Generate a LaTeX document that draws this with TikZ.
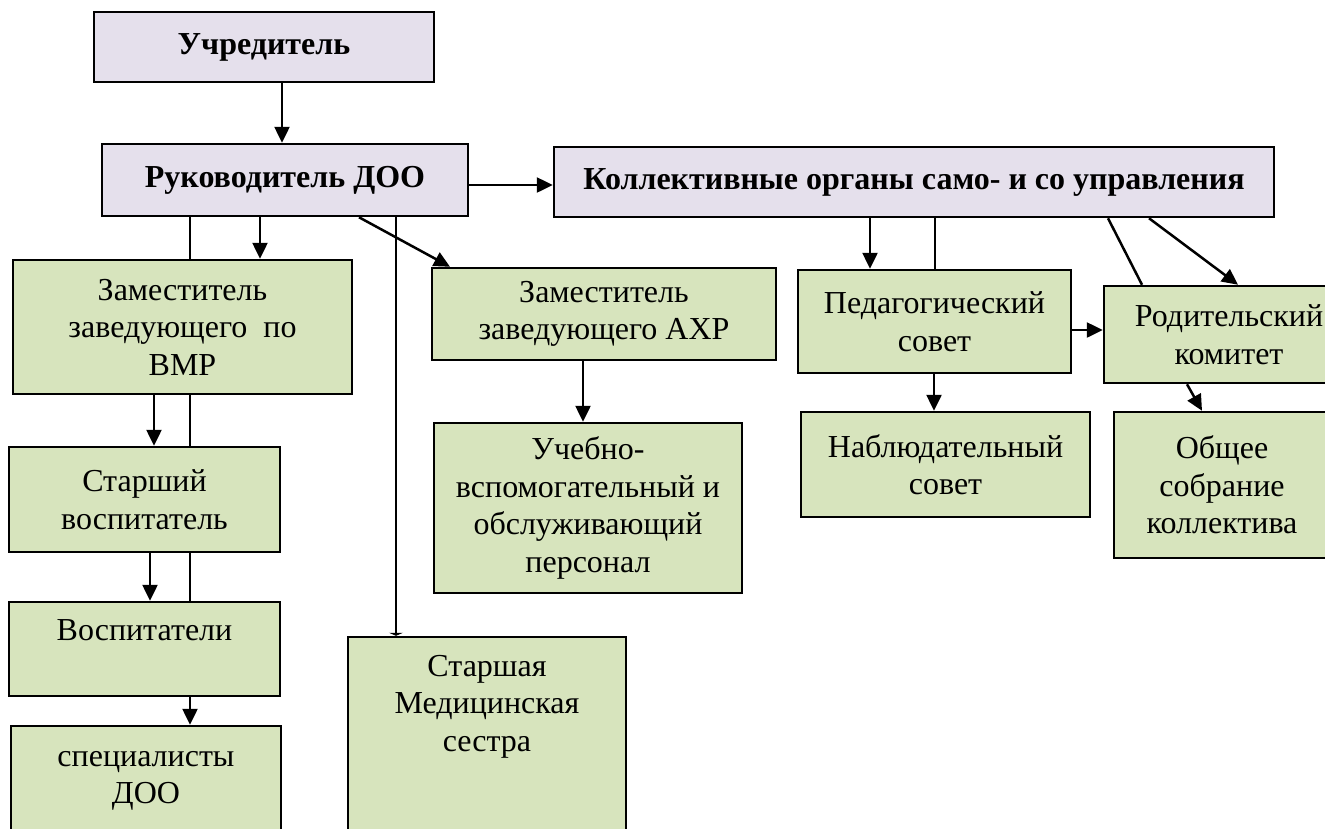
\documentclass[tikz,border=0pt]{standalone}
\usepackage{fontspec}
\setmainfont{Liberation Serif}
\usetikzlibrary{arrows.meta,positioning}
\definecolor{boxlilac}{HTML}{E5E0EC}
\definecolor{boxgreen}{HTML}{D7E4BD}

\begin{document}
\begin{tikzpicture}[x=1pt,y=-1pt,
        box/.style={draw,line width=2.5pt,inner sep=0pt,align=center,
            font=\fontsize{32}{37.5}\selectfont},
        headbox/.style={box,fill=boxlilac,font=\fontsize{32}{37.5}\selectfont\bfseries},
        staffbox/.style={box,fill=boxgreen},
        txt/.style={inner sep=0pt,align=center,anchor=north,font=\fontsize{32}{37.5}\selectfont},
        arr/.style={line width=2.5pt,-{Triangle[length=16pt,width=15pt]}},
        link/.style={line width=2.5pt}]
            \clip (0,0) rectangle (1325,828);

            \node[headbox,minimum width=340pt,minimum height=70pt] (uchr) at (264,47) {Учредитель};
            \node[headbox,minimum width=366pt,minimum height=72pt] (ruk) at (285,180) {Руководитель ДОО};
            \node[headbox,minimum width=720pt,minimum height=70pt] (koll) at (914,182) {Коллективные органы само- и со управления};

            \node[staffbox,minimum width=339pt,minimum height=134pt] (zvmr) at (182.5,327) {Заместитель\\заведующего~ по\\ВМР};
            \node[staffbox,minimum width=344pt,minimum height=92pt] (zahr) at (604,314) {Заместитель\\заведующего АХР};
            \node[staffbox,minimum width=273pt,minimum height=103pt] (ped) at (934.5,321.5) {Педагогический\\совет};
            \node[staffbox,minimum width=250pt,minimum height=97pt] (rod) at (1229,334.5) {Родительский\\комитет};
            \node[staffbox,minimum width=289pt,minimum height=105pt] (nabl) at (945.5,464.5) {Наблюдательный\\совет};
            \node[staffbox,minimum width=216pt,minimum height=146pt] (obsh) at (1222,485) {Общее\\собрание\\коллектива};
            \node[staffbox,minimum width=271pt,minimum height=105pt] (stv) at (144.5,499.5) {Старший\\воспитатель};
            \node[staffbox,minimum width=308pt,minimum height=170pt] (ucheb) at (588,508) {Учебно-\\вспомогательный и\\обслуживающий\\персонал};
            \node[staffbox,minimum width=271pt,minimum height=94pt] (vosp) at (144.5,649) {};
            \node[staffbox,minimum width=270pt,minimum height=124pt] (spec) at (146,788) {};
            \node[staffbox,minimum width=278pt,minimum height=213pt] (med) at (487,743.5) {};

            \node[txt,below=19pt of vosp.north] (vospt) {Воспитатели};
            \node[txt,below=26pt of spec.north] (spect) {специалисты\\ДОО};
            \node[txt,below=19pt of med.north] (medt) {Старшая\\Медицинская\\сестра};

            \draw[arr] (uchr.south -| 282,0) -- (ruk.north -| 282,0);
            \draw[arr] (ruk.east |- 0,185) -- (koll.west |- 0,185);
            \draw[link] (ruk.south -| 190,0) -- (zvmr.north -| 190,0);
            \draw[arr] (ruk.south -| 260,0) -- (zvmr.north -| 260,0);
            \draw[arr] (ruk.south -| 359,0) -- (zahr.north -| 450,0);
            \draw[line width=2.5pt,-{Triangle[length=3pt,width=14pt]}] (ruk.south -| 396,0) -- (med.north -| 396,0);

            \draw[arr] (zvmr.south -| 154,0) -- (stv.north -| 154,0);
            \draw[link] (zvmr.south -| 190,0) -- (stv.north -| 190,0);
            \draw[arr] (stv.south -| 150,0) -- (vosp.north -| 150,0);
            \draw[link] (stv.south -| 190,0) -- (vosp.north -| 190,0);
            \draw[arr] (vosp.south -| 190,0) -- (spec.north -| 190,0);
            \draw[arr] (zahr.south -| 583,0) -- (ucheb.north -| 583,0);

            \draw[arr] (koll.south -| 870,0) -- (ped.north -| 870,0);
            \draw[link] (koll.south -| 935,0) -- (ped.north -| 935,0);
            \draw[link] (koll.south -| 1108,0) -- (rod.north -| 1142,0);
            \draw[arr] (koll.south -| 1149,0) -- (rod.north -| 1238,0);
            \draw[arr] (ped.east |- 0,330) -- (rod.west |- 0,330);
            \draw[arr] (ped.south -| 934,0) -- (nabl.north -| 934,0);
            \draw[arr] (rod.south -| 1187,0) -- (obsh.north -| 1202,0);
\end{tikzpicture}
\end{document}
